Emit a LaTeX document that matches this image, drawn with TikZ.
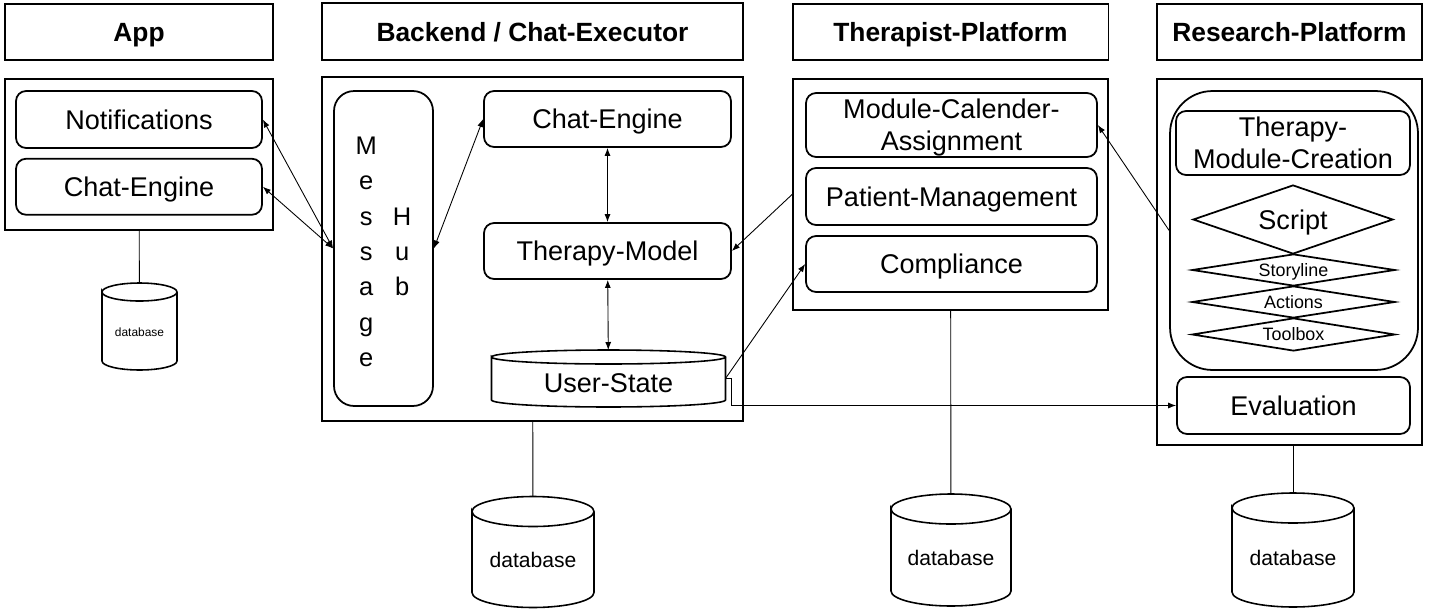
\documentclass[tikz,border=0pt]{standalone}
\usepackage{fontspec}
\setmainfont{Liberation Sans}
\usepackage{tikz}
\usetikzlibrary{arrows.meta,positioning,calc,shapes.geometric}
\newcommand{\drawdb}[2]{%
  \draw[line width=0.9pt] let \p1=(#1.north west), \p2=(#1.south east) in
    (\x1,\y1-#2) arc[start angle=180, end angle=-180, x radius={(\x2-\x1)/2}, y radius=#2]
    -- (\x1,\y2+#2) arc[start angle=180, end angle=360, x radius={(\x2-\x1)/2}, y radius=#2]
    -- (\x2,\y1-#2);}

\begin{document}
\begin{tikzpicture}[x=0.02cm, y=-0.02cm, >={Latex[length=1.6mm,width=1.2mm]},
  head/.style={draw, line width=1.1pt, minimum height=11.2mm, text height=10.8pt, text depth=0pt, font=\bfseries\fontsize{15}{18}\selectfont},
  pane/.style={draw, line width=1.1pt},
  mod/.style={draw, line width=1pt, rounded corners=2mm, align=center, text height=11.1pt, text depth=0pt, font=\fontsize{15.4}{18.2}\selectfont},
  mod2/.style={mod, text height={}, text depth={}},
  dbase/.style={outer sep=0pt, inner sep=0pt, text height=6mm, text depth=0pt, font=\fontsize{12}{14}\selectfont},
  dia/.style={draw, diamond, line width=1pt, inner sep=0pt, aspect=6, minimum width=40.6mm, minimum height=6.4mm, text height=7.3pt, text depth=0pt, font=\fontsize{10.2}{12}\selectfont},
  link/.style={line width=0.5pt}]
  \useasboundingbox (0,0) rectangle (1439,615);
  \node[pane, minimum width=53.6mm, minimum height=30.2mm](appf) at (139,154.5){};
  \node[pane, minimum width=84.2mm, minimum height=68.8mm](bef) at (532.5,249){};
  \node[pane, minimum width=63mm, minimum height=46.2mm](tpf) at (950.5,194.5){};
  \node[pane, minimum width=53mm, minimum height=73.2mm](rpf) at (1289.5,262){};
  \node[head, minimum width=53.6mm, above=3.4mm of appf](app){App};
  \node[head, minimum width=84.2mm, minimum height=11.4mm, above=3mm of bef](be){Backend / Chat-Executor};
  \node[head, minimum width=63.2mm, above=3.4mm of tpf](tp){Therapist-Platform};
  \node[head, minimum width=53mm, above=3.4mm of rpf](rp){Research-Platform};

  \node[mod, minimum width=49.2mm, minimum height=11.4mm](notif) at (139,119.5){Notifications};
  \node[mod, minimum width=49.2mm, minimum height=11.2mm, below=1.8mm of notif](appce){Chat-Engine};
  \node[dbase, minimum width=15mm, minimum height=17.4mm, text height=3.9mm, font=\fontsize{6.8}{8}\selectfont](appdb) at (139.5,326.5){database};

  \node[mod, rounded corners=4mm, minimum width=19.8mm, minimum height=63mm, text height=0pt, text depth=37.8mm](hub) at (383.5,248.5)
      {\fontsize{14.5}{20.2}\selectfont\begin{tabular}[t]{@{}c@{\hspace{9.2pt}}c@{}}M&\\e&\\s&H\\s&u\\a&b\\g&\\e&\end{tabular}};
  \node[mod, minimum width=49.4mm, minimum height=11.2mm](bece) at (607.5,119){Chat-Engine};
  \node[mod, minimum width=49.4mm, minimum height=11.2mm](tm) at (607.5,251){Therapy-Model};
  \node[dbase, minimum width=46.8mm, minimum height=11.4mm, text height=5.7mm, font=\fontsize{15.4}{18}\selectfont](us) at (608.5,378.5){User-State};
  \node[dbase, minimum width=24.4mm, minimum height=22.2mm](bedb) at (533,552){database};

  \node[mod2, minimum width=58.2mm, minimum height=12.8mm](mca) at (951.5,125){Module-Calender-\\\smash{Assignment}};
  \node[mod, minimum width=58.2mm, minimum height=11.4mm](pm) at (951.5,196.5){Patient-Management};
  \node[mod, minimum width=58.2mm, minimum height=11.2mm](comp) at (951.5,264){Compliance};
  \node[dbase, minimum width=24mm, minimum height=22.4mm](tpdb) at (951,550){database};

  \node[mod, rounded corners=8.5mm, minimum width=49.6mm, minimum height=55.8mm](rpi) at (1294,230.5){};
  \node[mod2, minimum width=46.8mm, minimum height=12.8mm](tmc) at (1293,143){Therapy-\\Module-Creation};
  \node[dia, aspect=3, minimum width=40mm, minimum height=13.8mm, text height=11.1pt, font=\fontsize{15.4}{18}\selectfont](scr) at (1293,219.5){Script};
  \node[dia](story) at (1293.5,270){Storyline};
  \node[dia](act) at (1293.5,302){Actions};
  \node[dia, minimum height=6.6mm](tool) at (1293.5,334.5){Toolbox};
  \node[mod, minimum width=46.6mm, minimum height=11.4mm](eval) at (1293.5,405.5){Evaluation};
  \node[dbase, minimum width=24.4mm, minimum height=22.8mm](rpdb) at (1293,550){database};

  \drawdb{appdb}{1.8mm} \drawdb{us}{1.4mm} \drawdb{bedb}{3mm} \drawdb{tpdb}{3mm} \drawdb{rpdb}{3mm}

  \draw[link,<->](notif.east)--(hub.west); \draw[link,<->](appce.east)--(hub.west);
  \draw[link,<->](hub.east)--(bece.west); \draw[link,<->](bece)--(tm); \draw[link,<->](tm)--(us);
  \draw[link,->](tpf.west)--(tm.east); \draw[link,->](us.east)--(comp.west);
  \draw[link,->](rpi.west)--(mca.east); \draw[link,->](us.east)--++(6,0)|-(eval.west);
  \draw[link](appf)--(appdb); \draw[link](bef)--(bedb); \draw[link](tpf)--(tpdb);
  \draw[link](rpdb.north)--(rpdb.north|-rpf.south);
\end{tikzpicture}
\end{document}
